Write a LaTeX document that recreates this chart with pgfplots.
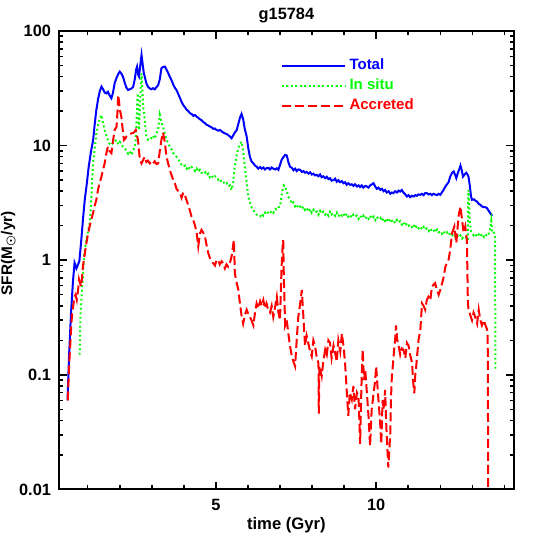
\documentclass[border=0pt]{standalone}
\usepackage{fontspec}
\setmainfont{Liberation Sans}
\usepackage{pgfplots}
\pgfplotsset{compat=1.18}
\definecolor{cblue}{RGB}{0,0,255}
\definecolor{cgreen}{RGB}{0,250,0}
\definecolor{cred}{RGB}{255,0,0}
\begin{document}
\begin{tikzpicture}
\path[use as bounding box] (-35.3pt,-33pt) rectangle (291.6pt,293.6pt);
\begin{axis}[
  at={(0,0)}, anchor=south west,
  scale only axis, width=273pt, height=275pt,
  ymode=log, xmin=0.1, xmax=14.3, ymin=0.01, ymax=100,
  xtick={5,10}, xticklabels={5,10},
  minor xtick={1,2,3,4,6,7,8,9,11,12,13,14},
  ytick={0.01,0.1,1,10,100}, yticklabels={0.01,0.1,1,10,100},
  minor ytick={0.02,0.03,0.04,0.05,0.06,0.07,0.08,0.09,0.2,0.3,0.4,0.5,0.6,0.7,0.8,0.9,2,3,4,5,6,7,8,9,20,30,40,50,60,70,80,90},
  tick align=inside,
  major tick length=4.8pt, minor tick length=2.6pt,
  tick style={black, line width=0.9pt},
  axis line style={line width=1.2pt},
  /pgf/number format/assume math mode=true,
  tick label style={font=\fontsize{9.8}{11}\selectfont\bfseries},
  xticklabel style={yshift=-2.5pt},
  yticklabel style={xshift=-1.2pt},
  title={g15784},
  every axis title shift=0pt,
  title style={at={(0.5,1)}, anchor=south, inner sep=0pt, yshift=4.5pt, font=\fontsize{9.8}{11}\selectfont\bfseries},
  xlabel={time (Gyr)},
  xlabel style={at={(axis description cs:0.5,0)}, anchor=north, inner sep=0pt, yshift=-16.5pt, font=\fontsize{10}{11}\selectfont\bfseries},
  ylabel={SFR(M{\boldmath$_\odot$}/yr)},
  ylabel style={at={(axis description cs:-0.094,0.515)}, anchor=south, inner sep=0pt, font=\fontsize{9.2}{10}\selectfont\bfseries},
  legend style={draw=none, fill=none, at={(0.487,0.947)}, anchor=north west, inner sep=0pt, row sep=0pt, font=\fontsize{9}{10}\selectfont\bfseries},
  legend cell align=left,
  legend image code/.code={\draw[#1] (0pt,0pt) -- (38pt,0pt);},
]
\addplot[cblue, line width=1.2pt] coordinates {
(0.37,0.06)(0.42,0.15)(0.48,0.35)(0.54,0.65)(0.59,0.95)(0.65,0.85)(0.70,0.92)(0.74,0.98)
(0.80,1.5)(0.86,2.4)(0.91,3.4)(0.97,4.6)(1.03,6.5)(1.10,8.8)(1.17,11.2)(1.22,15.5)
(1.27,20.5)(1.33,26)(1.38,30)(1.43,32.7)(1.48,31)(1.53,29)(1.58,28.6)(1.63,29.5)
(1.68,27.5)(1.74,25.9)(1.79,29)(1.84,35)(1.90,39)(1.95,42)(2.00,44.2)(2.05,42.5)
(2.10,40)(2.16,35)(2.21,32)(2.26,30.6)(2.31,31)(2.37,31.5)(2.42,32.7)(2.47,38)
(2.51,46)(2.54,48.9)(2.58,41)(2.60,40)(2.64,50)(2.68,61.8)(2.72,50)(2.75,43)
(2.78,40)(2.83,35)(2.88,32.7)(2.94,31.5)(2.99,31)(3.04,31.7)(3.09,31)(3.15,32.5)
(3.20,33.8)(3.25,38)(3.30,47.3)(3.35,48.5)(3.41,48.9)(3.46,46)(3.51,43)(3.56,40)
(3.62,37)(3.67,34)(3.72,32)(3.77,30.6)(3.83,28)(3.88,26)(3.93,24)(3.98,22.6)
(4.04,21.5)(4.09,20.5)(4.14,20)(4.19,19.2)(4.25,18.8)(4.30,18.2)(4.35,18.5)(4.40,17.9)
(4.45,17.5)(4.50,17)(4.56,16.6)(4.61,16)(4.66,15.7)(4.71,15.2)(4.76,15)(4.81,14.7)
(4.86,14.5)(4.92,14)(4.97,14.1)(5.02,13.7)(5.08,13.5)(5.13,13.7)(5.18,13.3)(5.23,13)
(5.28,12.8)(5.34,12.6)(5.39,12.3)(5.44,12)(5.49,11.6)(5.54,12.3)(5.59,13)(5.65,13.7)
(5.70,15.5)(5.75,17.5)(5.80,18.9)(5.85,17)(5.90,14)(5.96,12)(6.01,9.5)(6.06,8.0)
(6.11,7.3)(6.17,7.0)(6.22,6.7)(6.27,6.56)(6.32,6.3)(6.38,6.5)(6.43,6.3)(6.48,6.45)
(6.53,6.2)(6.58,6.36)(6.64,6.4)(6.69,6.2)(6.74,6.45)(6.79,6.3)(6.85,6.2)(6.90,6.35)
(6.95,6.15)(7.00,6.8)(7.05,7.5)(7.10,7.9)(7.16,8.3)(7.21,8.2)(7.26,7.2)(7.31,6.56)
(7.37,6.4)(7.42,6.1)(7.47,6.3)(7.52,6.0)(7.57,6.2)(7.63,6.15)(7.68,5.9)(7.73,6.0)
(7.78,5.8)(7.83,5.9)(7.89,5.7)(7.94,5.85)(7.99,5.6)(8.04,5.7)(8.09,5.5)(8.15,5.56)
(8.20,5.4)(8.25,5.6)(8.30,5.3)(8.35,5.4)(8.41,5.2)(8.46,5.35)(8.51,5.1)(8.56,5.2)
(8.61,4.95)(8.67,5.0)(8.72,5.15)(8.77,4.85)(8.82,5.0)(8.87,4.8)(8.93,4.9)(8.98,4.7)
(9.03,4.8)(9.08,4.55)(9.13,4.7)(9.19,4.55)(9.24,4.6)(9.29,4.45)(9.34,4.6)(9.40,4.4)
(9.45,4.5)(9.50,4.35)(9.55,4.5)(9.60,4.3)(9.66,4.45)(9.71,4.4)(9.76,4.3)(9.81,4.5)
(9.87,4.6)(9.92,4.7)(9.97,4.4)(10.02,4.2)(10.07,4.3)(10.13,4.11)(10.18,4.2)(10.23,4.0)
(10.28,4.1)(10.33,3.9)(10.39,4.0)(10.44,3.8)(10.49,3.9)(10.54,3.85)(10.59,4.0)(10.65,3.9)
(10.70,4.05)(10.75,3.97)(10.80,4.1)(10.85,3.9)(10.91,3.75)(10.96,3.6)(11.01,3.7)(11.06,3.55)
(11.11,3.65)(11.17,3.6)(11.22,3.7)(11.27,3.65)(11.32,3.75)(11.38,3.72)(11.43,3.8)(11.48,3.7)
(11.53,3.85)(11.58,3.85)(11.64,3.75)(11.69,3.8)(11.74,3.7)(11.79,3.8)(11.84,3.75)(11.90,3.7)
(11.95,3.8)(12.00,3.72)(12.05,3.9)(12.10,4.1)(12.16,4.4)(12.21,4.6)(12.26,4.8)(12.31,5.37)
(12.37,5.8)(12.42,5.95)(12.47,5.5)(12.50,5.2)(12.55,5.8)(12.60,6.3)(12.63,6.7)(12.67,6.1)
(12.71,5.37)(12.76,5.6)(12.81,5.8)(12.85,5.6)(12.88,5.37)(12.92,4.5)(12.96,3.6)(12.99,3.37)
(13.05,3.4)(13.10,3.3)(13.15,3.25)(13.20,3.1)(13.25,3.05)(13.30,2.95)(13.36,2.9)(13.41,2.9)
(13.46,2.85)(13.51,2.7)(13.57,2.55)(13.62,2.44)
};
\addlegendentry{\textcolor{cblue}{Total}}
\addplot[cgreen, line width=1.2pt, dash pattern=on 1.1pt off 1.6pt] coordinates {
(0.75,0.15)(0.77,0.3)(0.80,0.45)(0.83,0.6)(0.85,0.72)(0.89,1.12)(0.94,1.4)(1.00,1.73)
(1.06,2.1)(1.10,2.94)(1.13,4.5)(1.17,7.0)(1.22,9.5)(1.27,12.8)(1.32,15)(1.37,17)
(1.43,18.5)(1.48,15.5)(1.53,13.7)(1.58,12.3)(1.63,11.2)(1.68,10.4)(1.74,10.1)(1.79,10.6)
(1.84,10.9)(1.90,11.2)(1.95,10.3)(2.00,10.8)(2.05,10.5)(2.10,9.8)(2.16,9.5)(2.21,8.9)
(2.26,8.5)(2.31,8.9)(2.37,8.3)(2.42,9.0)(2.47,9.8)(2.50,11.2)(2.53,18)(2.56,28.6)
(2.58,20)(2.60,13.7)(2.63,22)(2.66,35)(2.68,42.7)(2.71,30)(2.73,22)(2.76,19.2)
(2.80,14.5)(2.83,12)(2.88,11.3)(2.94,11.8)(2.99,11.6)(3.04,12.2)(3.09,11.5)(3.15,12.8)
(3.20,14)(3.25,18.5)(3.30,16)(3.35,14.6)(3.41,12.5)(3.46,11.3)(3.51,10.5)(3.56,9.8)
(3.62,9.2)(3.67,8.6)(3.72,8.3)(3.77,8.0)(3.83,7.6)(3.88,7.1)(3.93,6.8)(3.98,6.56)
(4.04,6.7)(4.09,6.3)(4.14,6.6)(4.19,6.2)(4.25,6.5)(4.29,6.36)(4.35,6.0)(4.40,6.3)
(4.45,5.9)(4.50,6.15)(4.55,5.8)(4.60,5.75)(4.66,5.9)(4.71,5.5)(4.76,5.7)(4.81,5.3)
(4.86,5.5)(4.92,5.2)(4.97,5.4)(5.02,5.37)(5.08,5.0)(5.13,5.1)(5.18,4.8)(5.23,4.86)
(5.28,4.6)(5.34,4.7)(5.39,4.4)(5.44,4.5)(5.49,4.11)(5.54,4.8)(5.59,6.56)(5.65,8.3)
(5.70,9.6)(5.75,10.4)(5.80,10.8)(5.85,9.0)(5.90,6.56)(5.96,4.8)(6.01,3.6)(6.06,3.2)
(6.11,2.9)(6.17,2.75)(6.22,2.6)(6.27,2.5)(6.32,2.45)(6.38,2.41)(6.43,2.55)(6.48,2.45)
(6.53,2.6)(6.58,2.5)(6.64,2.65)(6.69,2.58)(6.74,2.7)(6.79,2.6)(6.85,2.8)(6.90,2.75)
(6.95,2.9)(7.00,2.94)(7.04,3.5)(7.08,4.11)(7.12,4.5)(7.16,4.4)(7.21,4.0)(7.26,3.6)
(7.31,3.37)(7.37,3.1)(7.42,3.2)(7.47,2.95)(7.52,3.05)(7.57,2.85)(7.63,2.94)(7.68,2.8)
(7.73,2.95)(7.78,2.75)(7.83,2.85)(7.89,2.65)(7.94,2.8)(7.99,2.6)(8.04,2.75)(8.09,2.6)
(8.15,2.66)(8.20,2.5)(8.25,2.7)(8.30,2.55)(8.35,2.65)(8.41,2.5)(8.46,2.6)(8.51,2.45)
(8.56,2.65)(8.61,2.5)(8.67,2.58)(8.72,2.45)(8.77,2.6)(8.82,2.4)(8.87,2.55)(8.93,2.45)
(8.98,2.55)(9.03,2.4)(9.08,2.55)(9.13,2.4)(9.19,2.49)(9.24,2.35)(9.29,2.5)(9.34,2.4)
(9.40,2.45)(9.45,2.3)(9.50,2.45)(9.55,2.35)(9.60,2.45)(9.66,2.3)(9.71,2.41)(9.76,2.3)
(9.81,2.45)(9.87,2.3)(9.92,2.4)(9.97,2.25)(10.02,2.4)(10.07,2.3)(10.13,2.35)(10.18,2.2)
(10.23,2.33)(10.28,2.2)(10.33,2.3)(10.39,2.15)(10.44,2.3)(10.49,2.2)(10.54,2.25)(10.59,2.1)
(10.65,2.25)(10.70,2.15)(10.75,2.2)(10.80,2.05)(10.85,2.15)(10.91,2.0)(10.96,2.1)(11.01,2.0)
(11.06,2.05)(11.11,1.95)(11.17,2.05)(11.22,1.9)(11.27,2.0)(11.32,1.9)(11.38,1.97)(11.43,1.85)
(11.48,1.95)(11.53,1.85)(11.58,1.9)(11.64,1.8)(11.69,1.9)(11.74,1.8)(11.79,1.85)(11.84,1.75)
(11.90,1.85)(11.95,1.75)(12.00,1.78)(12.05,1.7)(12.10,1.8)(12.16,1.7)(12.21,1.75)(12.26,1.65)
(12.31,1.72)(12.37,1.65)(12.42,1.7)(12.47,1.6)(12.52,1.67)(12.57,1.58)(12.63,1.65)(12.68,1.55)
(12.73,1.62)(12.78,1.61)(12.83,1.55)(12.86,1.5)(12.87,3.0)(12.88,4.1)(12.90,3.0)(12.92,2.2)
(12.96,1.8)(12.99,1.73)(13.04,1.65)(13.09,1.7)(13.15,1.6)(13.20,1.68)(13.25,1.61)(13.30,1.7)
(13.36,1.6)(13.41,1.68)(13.46,1.62)(13.51,1.7)(13.56,1.9)(13.59,2.2)(13.62,1.76)(13.67,1.78)
(13.71,1.6)(13.72,0.11)
};
\addlegendentry{\textcolor{cgreen}{In situ}}
\addplot[cred, line width=1.2pt, dash pattern=on 5.4pt off 2.4pt] coordinates {
(0.38,0.06)(0.42,0.12)(0.46,0.19)(0.49,0.28)(0.52,0.35)(0.56,0.42)(0.59,0.48)(0.62,0.5)
(0.66,0.45)(0.70,0.55)(0.73,0.68)(0.77,0.62)(0.80,0.59)(0.85,0.88)(0.90,1.1)(0.96,1.41)
(1.01,1.7)(1.06,1.97)(1.11,2.25)(1.17,2.6)(1.22,3.0)(1.27,3.37)(1.32,4.1)(1.38,4.8)
(1.43,5.37)(1.48,6.2)(1.53,7.0)(1.58,8.5)(1.63,9.8)(1.68,9.0)(1.74,8.6)(1.79,11)
(1.84,13.7)(1.90,14.6)(1.93,20)(1.95,27.7)(1.98,24)(2.00,20.5)(2.03,19)(2.05,17.9)
(2.09,14)(2.13,11.2)(2.17,11.5)(2.21,12.0)(2.26,12.3)(2.31,12.6)(2.37,12.8)(2.42,12.9)
(2.47,13.3)(2.50,13.7)(2.53,12.5)(2.57,11.2)(2.60,9.0)(2.63,7.5)(2.68,7.0)(2.73,7.5)
(2.78,8.0)(2.83,7.2)(2.88,7.4)(2.94,7.0)(2.99,7.3)(3.04,7.0)(3.09,7.3)(3.15,6.9)
(3.20,7.0)(3.25,9)(3.30,11.2)(3.35,13)(3.40,11)(3.46,8.0)(3.51,7.0)(3.56,6.15)
(3.62,5.5)(3.67,5.0)(3.72,4.7)(3.77,4.2)(3.83,4.0)(3.88,3.85)(3.93,3.5)(3.98,3.9)
(4.03,3.72)(4.08,3.37)(4.14,3.0)(4.19,2.7)(4.24,2.4)(4.29,2.25)(4.35,2.0)(4.40,1.73)
(4.45,1.32)(4.50,1.7)(4.55,1.84)(4.60,1.75)(4.66,1.61)(4.71,1.35)(4.76,1.16)(4.81,1.05)
(4.86,0.98)(4.92,0.94)(4.97,0.9)(5.02,1.0)(5.07,1.01)(5.12,0.92)(5.18,0.98)(5.23,0.94)
(5.28,0.85)(5.33,0.92)(5.38,0.88)(5.44,0.95)(5.49,1.08)(5.53,1.3)(5.56,1.5)(5.58,1.0)
(5.59,0.77)(5.64,0.65)(5.70,0.55)(5.75,0.42)(5.80,0.33)(5.85,0.28)(5.90,0.33)(5.96,0.37)
(6.01,0.34)(6.06,0.32)(6.11,0.3)(6.17,0.27)(6.22,0.35)(6.27,0.42)(6.32,0.38)(6.38,0.44)
(6.43,0.4)(6.48,0.45)(6.53,0.38)(6.58,0.42)(6.63,0.37)(6.69,0.35)(6.74,0.4)(6.79,0.32)
(6.84,0.38)(6.90,0.48)(6.95,0.35)(7.00,0.30)(7.03,0.6)(7.05,0.88)(7.08,1.3)(7.10,1.5)
(7.12,0.7)(7.16,0.27)(7.21,0.3)(7.26,0.23)(7.31,0.18)(7.37,0.145)(7.42,0.13)(7.47,0.119)
(7.52,0.2)(7.57,0.32)(7.62,0.4)(7.68,0.55)(7.73,0.32)(7.78,0.18)(7.83,0.22)(7.88,0.19)
(7.94,0.16)(7.99,0.145)(8.04,0.2)(8.09,0.18)(8.15,0.14)(8.20,0.127)(8.21,0.046)(8.23,0.12)
(8.30,0.097)(8.35,0.13)(8.41,0.166)(8.46,0.15)(8.51,0.2)(8.56,0.19)(8.61,0.14)(8.67,0.18)
(8.72,0.155)(8.77,0.13)(8.82,0.2)(8.88,0.16)(8.93,0.23)(8.98,0.18)(9.03,0.127)(9.08,0.074)
(9.13,0.044)(9.18,0.07)(9.24,0.061)(9.29,0.08)(9.34,0.05)(9.40,0.07)(9.45,0.065)(9.50,0.025)
(9.54,0.08)(9.58,0.166)(9.62,0.09)(9.66,0.11)(9.71,0.07)(9.76,0.044)(9.81,0.024)(9.86,0.05)
(9.92,0.069)(9.97,0.09)(10.00,0.119)(10.04,0.08)(10.07,0.061)(10.12,0.04)(10.16,0.025)(10.20,0.06)
(10.23,0.05)(10.28,0.074)(10.31,0.04)(10.33,0.029)(10.36,0.02)(10.38,0.0155)(10.41,0.022)(10.44,0.031)
(10.46,0.06)(10.49,0.097)(10.53,0.13)(10.56,0.166)(10.59,0.2)(10.62,0.27)(10.66,0.2)(10.70,0.18)
(10.75,0.15)(10.80,0.17)(10.85,0.166)(10.91,0.14)(10.96,0.19)(11.01,0.18)(11.06,0.15)(11.12,0.127)
(11.15,0.09)(11.19,0.069)(11.22,0.1)(11.25,0.119)(11.29,0.16)(11.32,0.2)(11.38,0.25)(11.43,0.42)
(11.48,0.4)(11.53,0.37)(11.58,0.45)(11.63,0.48)(11.69,0.45)(11.74,0.59)(11.79,0.61)(11.84,0.63)
(11.90,0.55)(11.95,0.5)(12.00,0.55)(12.05,0.62)(12.10,0.7)(12.16,0.88)(12.21,0.95)(12.26,1.01)
(12.31,1.23)(12.37,1.73)(12.44,1.97)(12.50,1.41)(12.57,2.41)(12.63,2.94)(12.68,2.25)(12.73,1.73)
(12.78,1.97)(12.83,1.5)(12.86,0.45)(12.88,0.37)(12.94,0.33)(12.99,0.30)(13.04,0.35)(13.09,0.32)
(13.15,0.28)(13.20,0.37)(13.25,0.3)(13.30,0.27)(13.36,0.3)(13.41,0.27)(13.46,0.25)(13.48,0.21)
(13.51,0.001)
};
\addlegendentry{\textcolor{cred}{Accreted}}
\end{axis}
\end{tikzpicture}
\end{document}
